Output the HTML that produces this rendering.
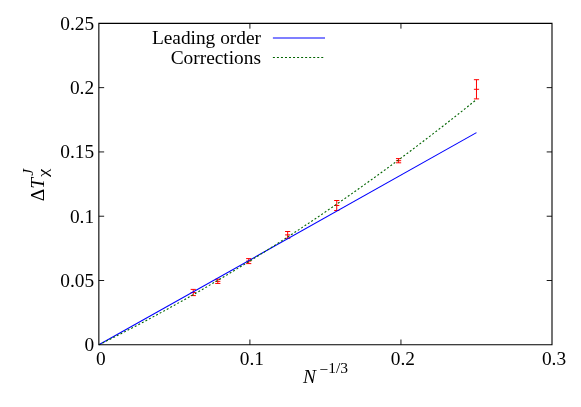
<!DOCTYPE html>
<html><head><meta charset="utf-8"><title>plot</title>
<style>
html,body{margin:0;padding:0;background:#fff;}
body{width:581px;height:407px;overflow:hidden;}
svg{display:block;}
text{font-family:"Liberation Serif",serif;fill:#000;}
svg{will-change:transform;}
</style></head><body>
<svg width="581" height="407" viewBox="0 0 581 407">
<rect x="0" y="0" width="581" height="407" fill="#fff"/>

<g stroke="#ff0000" stroke-width="1" fill="none">
<path d="M193.26 289.40V295.60M190.66 289.40H195.86M190.66 295.60H195.86M190.66 292.50H195.86"/>
<path d="M217.79 279.25V283.45M215.19 279.25H220.39M215.19 283.45H220.39M215.19 281.35H220.39"/>
<path d="M248.71 258.60V263.60M246.11 258.60H251.31M246.11 263.60H251.31M246.11 261.10H251.31"/>
<path d="M287.66 231.50V238.30M285.06 231.50H290.26M285.06 238.30H290.26M285.06 234.90H290.26"/>
<path d="M336.74 200.50V210.50M334.14 200.50H339.34M334.14 210.50H339.34M334.14 205.50H339.34"/>
<path d="M398.58 158.60V162.80M395.98 158.60H401.18M395.98 162.80H401.18M395.98 160.70H401.18"/>
<path d="M476.48 79.70V98.90M473.88 79.70H479.08M473.88 98.90H479.08M473.88 89.30H479.08"/>
</g>
<path d="M98.85 344.80L476.48 132.64" stroke="#0000ff" stroke-width="1.1" fill="none"/>
<path d="M98.85 344.80L102.63 342.94L106.40 341.06L110.18 339.17L113.95 337.27L117.73 335.36L121.51 333.43L125.28 331.50L129.06 329.55L132.84 327.59L136.61 325.62L140.39 323.63L144.16 321.64L147.94 319.63L151.72 317.61L155.49 315.58L159.27 313.54L163.05 311.48L166.82 309.42L170.60 307.34L174.38 305.25L178.15 303.14L181.93 301.03L185.70 298.90L189.48 296.77L193.26 294.62L197.03 292.45L200.81 290.28L204.59 288.10L208.36 285.90L212.14 283.69L215.91 281.47L219.69 279.23L223.47 276.99L227.24 274.73L231.02 272.46L234.79 270.18L238.57 267.89L242.35 265.59L246.12 263.27L249.90 260.94L253.68 258.60L257.45 256.25L261.23 253.89L265.00 251.51L268.78 249.13L272.56 246.73L276.33 244.32L280.11 241.89L283.89 239.46L287.66 237.01L291.44 234.55L295.22 232.08L298.99 229.60L302.77 227.11L306.54 224.60L310.32 222.08L314.10 219.55L317.87 217.01L321.65 214.46L325.42 211.89L329.20 209.32L332.98 206.73L336.75 204.12L340.53 201.51L344.31 198.89L348.08 196.25L351.86 193.60L355.63 190.94L359.41 188.27L363.19 185.59L366.96 182.89L370.74 180.18L374.52 177.46L378.29 174.73L382.07 171.99L385.85 169.23L389.62 166.46L393.40 163.69L397.17 160.89L400.95 158.09L404.73 155.28L408.50 152.45L412.28 149.61L416.05 146.76L419.83 143.90L423.61 141.03L427.38 138.14L431.16 135.24L434.94 132.33L438.71 129.41L442.49 126.48L446.26 123.53L450.04 120.57L453.82 117.61L457.59 114.62L461.37 111.63L465.15 108.63L468.92 105.61L472.70 102.58L476.48 99.54" stroke="#006400" stroke-width="1.1" stroke-dasharray="1.95 2.08" fill="none"/>
<path d="M272.9 38H325" stroke="#0000ff" stroke-width="1.05" fill="none"/>
<path d="M272.9 57.5H325" stroke="#006400" stroke-width="1" stroke-dasharray="2 2.03" fill="none"/>
<g stroke="#000" stroke-width="1.1" fill="none">
<path d="M98.85 23.35H552.0V344.8H98.85Z"/>
</g>
<g stroke="#000" stroke-width="0.9" fill="none">
<path d="M249.90 344.8v-5.3M249.90 23.35v5.3"/>
<path d="M400.95 344.8v-5.3M400.95 23.35v5.3"/>
<path d="M98.85 280.51h5.3M552.0 280.51h-5.3"/>
<path d="M98.85 216.22h5.3M552.0 216.22h-5.3"/>
<path d="M98.85 151.93h5.3M552.0 151.93h-5.3"/>
<path d="M98.85 87.64h5.3M552.0 87.64h-5.3"/>
</g>
<text x="94.1" y="351.30" font-size="19.37" text-anchor="end">0</text>
<text x="94.1" y="287.01" font-size="19.37" text-anchor="end">0.05</text>
<text x="94.1" y="222.72" font-size="19.37" text-anchor="end">0.1</text>
<text x="94.1" y="158.43" font-size="19.37" text-anchor="end">0.15</text>
<text x="94.1" y="94.14" font-size="19.37" text-anchor="end">0.2</text>
<text x="94.1" y="29.85" font-size="19.37" text-anchor="end">0.25</text>
<text x="100.85" y="365.4" font-size="19.37" text-anchor="middle">0</text>
<text x="251.90" y="365.4" font-size="19.37" text-anchor="middle">0.1</text>
<text x="402.95" y="365.4" font-size="19.37" text-anchor="middle">0.2</text>
<text x="554.00" y="365.4" font-size="19.37" text-anchor="middle">0.3</text>
<text x="261.0" y="44.2" font-size="19.37" text-anchor="end">Leading order</text>
<text x="261.0" y="63.5" font-size="19.37" text-anchor="end">Corrections</text>
<text x="303.0" y="382.7" font-size="19.37" font-style="italic">N</text>
<text x="319.5" y="372.9" font-size="15.5"><tspan dy="2.2">−</tspan><tspan dy="-2.2">1/3</tspan></text>
<g transform="translate(43.8 201.2) rotate(-90)"><text x="0" y="0" font-size="19.37">Δ<tspan font-style="italic">T</tspan></text><text x="25.5" y="-10.6" font-size="15.5" font-style="italic">J</text><text transform="translate(24.2 4.6) scale(1.2 1)" x="0" y="0" font-size="15.5">χ</text></g>
</svg></body></html>
